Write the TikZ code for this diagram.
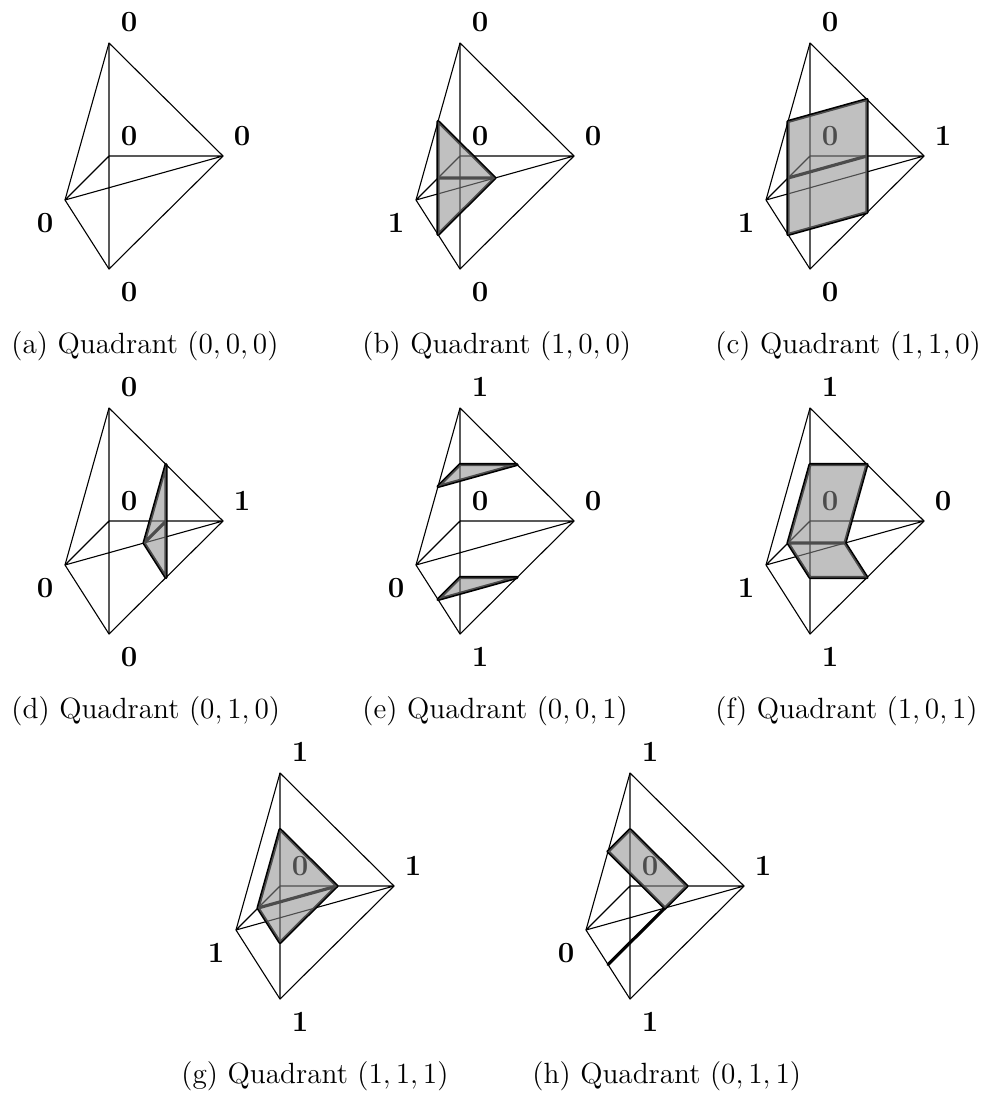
\documentclass[tikz,border=0pt]{standalone}
\usetikzlibrary{calc}
\tikzset{
  x=0.41pt,y=-0.41pt,
  wire/.style={line width=0.45pt,black,line join=round},
  thick edge/.style={line width=1.3pt,black,line cap=round,line join=round},
  shade/.style={fill={rgb,1:red,0.55;green,0.55;blue,0.55},fill opacity=0.55,draw=none},
  vlabel/.style={font=\fontsize{12}{14}\selectfont\bfseries,inner sep=0pt},
  capt/.style={font=\fontsize{12}{14}\selectfont,inner sep=0pt,anchor=base west},
}
% #1 name #2,#3 centre; #4 T #5 C #6 R #7 L #8 B labels
\newcommand{\tetra}[8]{%
  \coordinate (#1C) at (#2,#3);
  \coordinate (#1T) at ($(#1C)+(0,-113)$);
  \coordinate (#1R) at ($(#1C)+(114,0)$);
  \coordinate (#1L) at ($(#1C)+(-44,44)$);
  \coordinate (#1B) at ($(#1C)+(0,113)$);
  \draw[wire] (#1T)--(#1R)--(#1B)--(#1L)--cycle;
  \draw[wire] (#1T)--(#1B) (#1C)--(#1R) (#1C)--(#1L) (#1L)--(#1R);
  \node[vlabel] (#1t) at ($(#1T)+(20,-21)$) {#4};
  \node[vlabel] (#1c) at ($(#1C)+(20,-20)$) {#5};
  \node[vlabel] (#1r) at ($(#1R)+(19,-20)$) {#6};
  \node[vlabel] (#1l) at ($(#1L)+(-20,23)$) {#7};
  \node[vlabel] (#1b) at ($(#1B)+(20,23)$) {#8};
  \coordinate (#1LT) at ($(#1L)!.5!(#1T)$);
  \coordinate (#1LB) at ($(#1L)!.5!(#1B)$);
  \coordinate (#1LR) at ($(#1L)!.5!(#1R)$);
  \coordinate (#1LC) at ($(#1L)!.5!(#1C)$);
  \coordinate (#1TC) at ($(#1T)!.5!(#1C)$);
  \coordinate (#1TR) at ($(#1T)!.5!(#1R)$);
  \coordinate (#1CR) at ($(#1C)!.5!(#1R)$);
  \coordinate (#1CB) at ($(#1C)!.5!(#1B)$);
  \coordinate (#1BR) at ($(#1B)!.5!(#1R)$);
}
\begin{document}
\begin{tikzpicture}
\useasboundingbox (0,0) rectangle (982,1093);
% (a)
\tetra{a}{109}{156}{0}{0}{0}{0}{0}
\node[capt] (capa) at (11,353) {(a) Quadrant $(0,0,0)$};
% (b)
\tetra{b}{460}{156}{0}{0}{0}{1}{0}
\draw[thick edge] (bLT)--(bLR)--(bLB)--cycle (bLC)--(bLR);
\fill[shade] (bLT)--(bLR)--(bLB)--cycle;
\node[capt] (capb) at (362,353) {(b) Quadrant $(1,0,0)$};
% (c)
\tetra{c}{810}{156}{0}{0}{1}{1}{0}
\draw[thick edge] (cLT)--(cTR)--(cBR)--(cLB)--cycle (cLC)--(cCR);
\fill[shade] (cLT)--(cTR)--(cBR)--(cLB)--cycle;
\node[capt] (capc) at (715,353) {(c) Quadrant $(1,1,0)$};
% (d)
\tetra{d}{109}{521}{0}{0}{1}{0}{0}
\draw[thick edge] (dTR)--(dBR)--(dLR)--cycle (dCR)--(dLR);
\fill[shade] (dTR)--(dBR)--(dLR)--cycle;
\node[capt] (capd) at (11,718) {(d) Quadrant $(0,1,0)$};
% (e)
\tetra{e}{460}{521}{1}{0}{0}{0}{1}
\draw[thick edge] (eLT)--(eTC)--(eTR)--cycle (eLB)--(eCB)--(eBR)--cycle;
\fill[shade] (eLT)--(eTC)--(eTR)--cycle (eLB)--(eCB)--(eBR)--cycle;
\node[capt] (cape) at (362,718) {(e) Quadrant $(0,0,1)$};
% (f)
\tetra{f}{810}{521}{1}{0}{0}{1}{1}
\draw[thick edge] (fTC)--(fTR)--(fLR)--(fBR)--(fCB)--(fLC)--cycle (fLC)--(fLR);
\fill[shade] (fTC)--(fTR)--(fLR)--(fBR)--(fCB)--(fLC)--cycle;
\node[capt] (capf) at (715,718) {(f) Quadrant $(1,0,1)$};
% (g)
\tetra{g}{280}{886}{1}{0}{1}{1}{1}
\draw[thick edge] (gTC)--(gCR)--(gCB)--(gLC)--cycle (gLC)--(gCR);
\fill[shade] (gTC)--(gCR)--(gCB)--(gLC)--cycle;
\node[capt] (capg) at (181,1083) {(g) Quadrant $(1,1,1)$};
% (h)
\tetra{h}{630}{886}{1}{0}{1}{0}{1}
\draw[thick edge] (hTC)--(hCR)--(hLR)--(hLT)--cycle (hLR)--(hLB);
\fill[shade] (hTC)--(hCR)--(hLR)--(hLT)--cycle;
\node[capt] (caph) at (532,1083) {(h) Quadrant $(0,1,1)$};
\end{tikzpicture}
\end{document}
